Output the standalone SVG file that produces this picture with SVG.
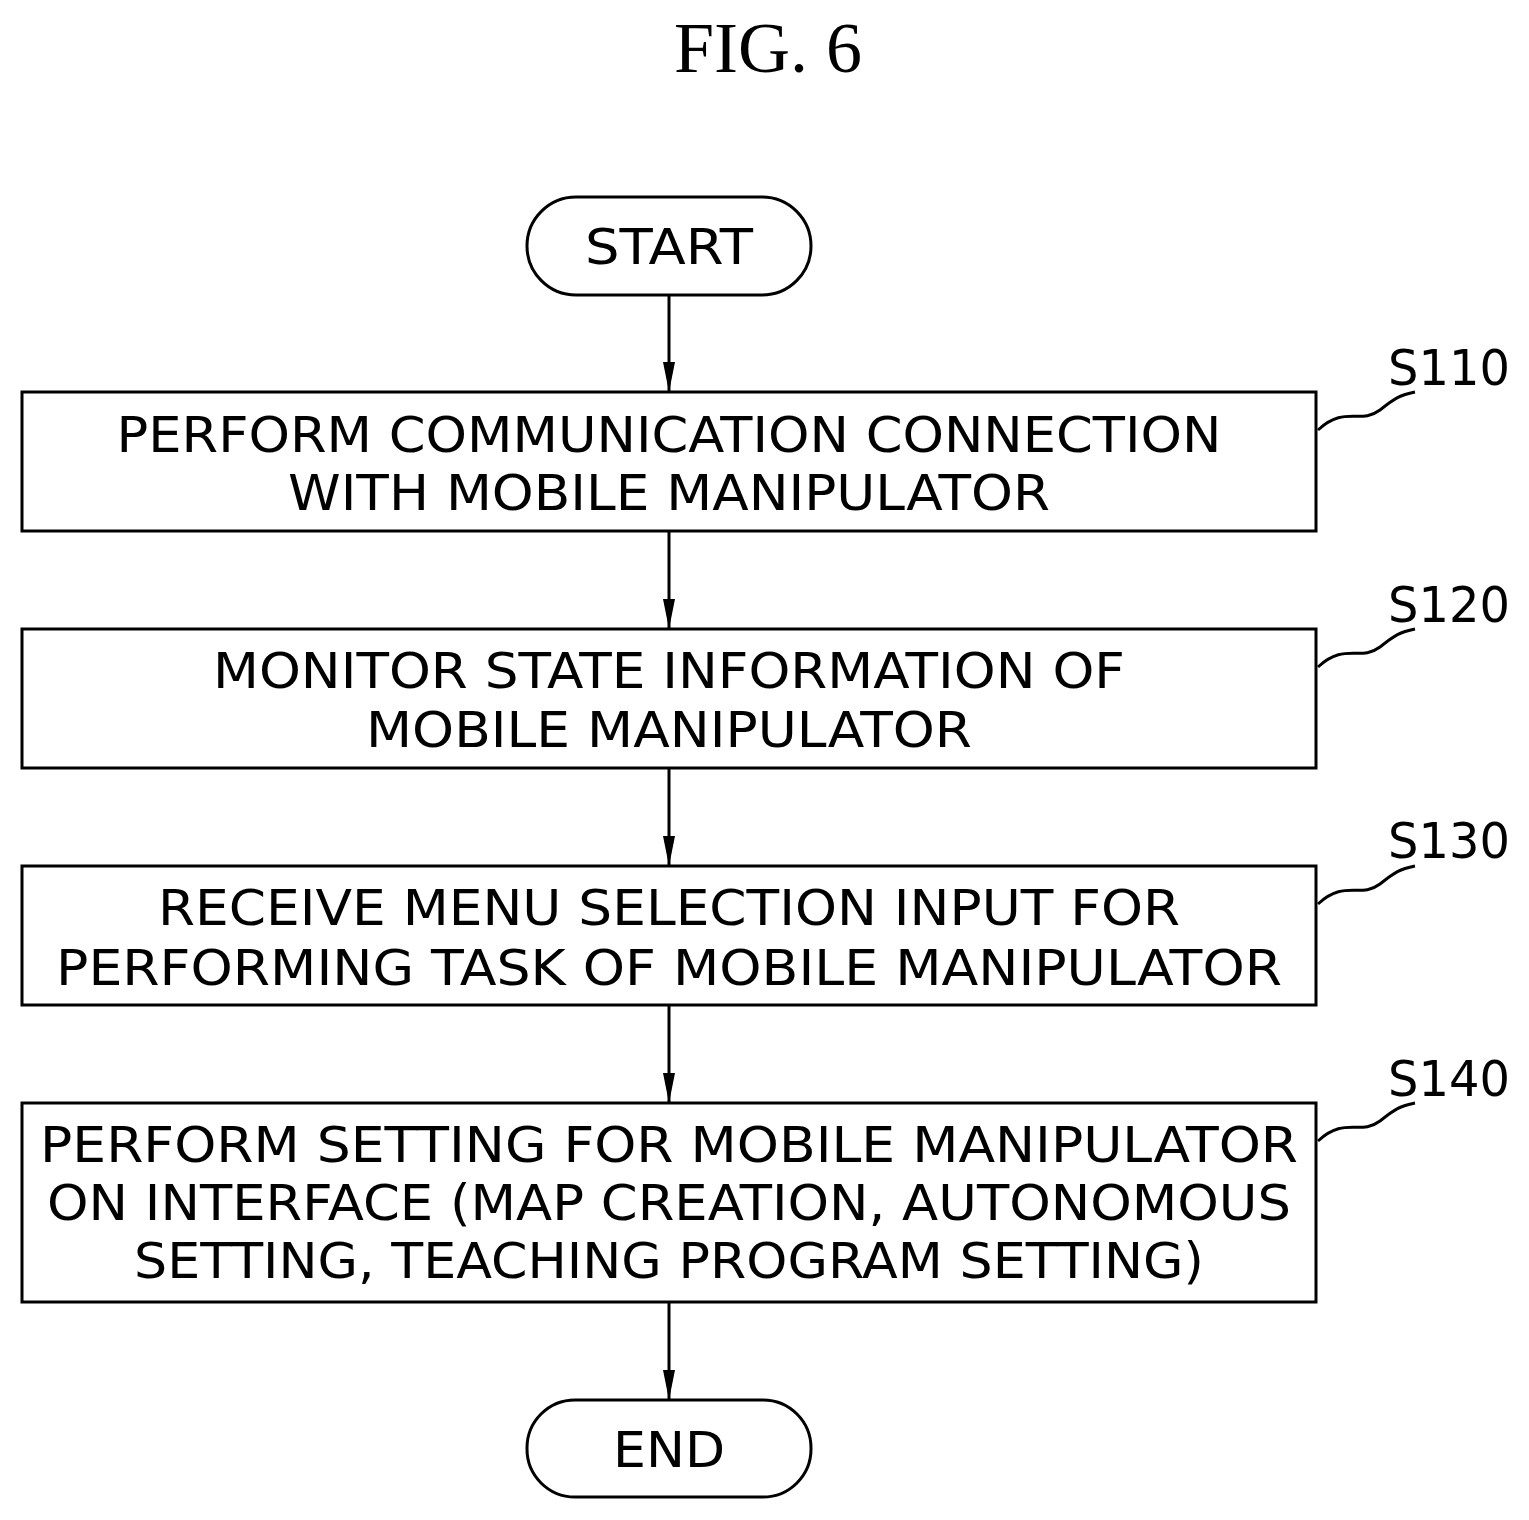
<svg xmlns="http://www.w3.org/2000/svg" width="1529" height="1520" viewBox="0 0 1529 1520">
<style>
.b{fill:#fff;stroke:#000;stroke-width:3}
.t{font-family:"DejaVu Sans","Liberation Sans",sans-serif;font-size:50px;text-anchor:middle;fill:#000}
.l{font-family:"DejaVu Sans","Liberation Sans",sans-serif;font-size:50px;fill:#000}
.c{stroke:#000;stroke-width:3;fill:none}
</style>
<defs><marker id="a" markerWidth="30" markerHeight="12" refX="29" refY="6" orient="auto" markerUnits="userSpaceOnUse" viewBox="0 0 30 12"><path d="M0,0 L30,6 L0,12 Z" fill="#000"/></marker></defs>
<rect width="1529" height="1520" fill="#fff"/>
<text x="768" y="72" font-family="Liberation Serif,serif" font-size="72" text-anchor="middle">FIG. 6</text>
<g id="connectors">
<line class="c" x1="669" y1="295" x2="669" y2="391" marker-end="url(#a)"/>
<line class="c" x1="669" y1="531" x2="669" y2="628" marker-end="url(#a)"/>
<line class="c" x1="669" y1="768" x2="669" y2="865" marker-end="url(#a)"/>
<line class="c" x1="669" y1="1005" x2="669" y2="1102" marker-end="url(#a)"/>
<line class="c" x1="669" y1="1302" x2="669" y2="1399" marker-end="url(#a)"/>
</g>
<g id="start"><rect class="b" x="527" y="197" width="284" height="98" rx="49"/><text class="t" x="669" y="264" textLength="168" lengthAdjust="spacingAndGlyphs">START</text></g>
<g id="s110"><rect class="b" x="22" y="392" width="1294" height="139"/>
<text class="t" x="669" y="452" textLength="1105" lengthAdjust="spacingAndGlyphs">PERFORM COMMUNICATION CONNECTION</text>
<text class="t" x="669" y="510" textLength="762" lengthAdjust="spacingAndGlyphs">WITH MOBILE MANIPULATOR</text>
<path class="c" stroke-width="2" d="M1318,430 C1345,405 1360,425 1380,410 C1395,398 1400,395 1415,392"/>
<text class="l" x="1388" y="385" textLength="122" lengthAdjust="spacingAndGlyphs">S110</text></g>
<g id="s120"><rect class="b" x="22" y="629" width="1294" height="139"/>
<text class="t" x="669" y="688" textLength="912" lengthAdjust="spacingAndGlyphs">MONITOR STATE INFORMATION OF</text>
<text class="t" x="669" y="747" textLength="606" lengthAdjust="spacingAndGlyphs">MOBILE MANIPULATOR</text>
<path class="c" stroke-width="2" d="M1318,667 C1345,642 1360,662 1380,647 C1395,635 1400,632 1415,629"/>
<text class="l" x="1388" y="622" textLength="122" lengthAdjust="spacingAndGlyphs">S120</text></g>
<g id="s130"><rect class="b" x="22" y="866" width="1294" height="139"/>
<text class="t" x="669" y="925" textLength="1022" lengthAdjust="spacingAndGlyphs">RECEIVE MENU SELECTION INPUT FOR</text>
<text class="t" x="669" y="985" textLength="1226" lengthAdjust="spacingAndGlyphs">PERFORMING TASK OF MOBILE MANIPULATOR</text>
<path class="c" stroke-width="2" d="M1318,904 C1345,879 1360,899 1380,884 C1395,872 1400,869 1415,866"/>
<text class="l" x="1388" y="858" textLength="122" lengthAdjust="spacingAndGlyphs">S130</text></g>
<g id="s140"><rect class="b" x="22" y="1103" width="1294" height="199"/>
<text class="t" x="669" y="1162" textLength="1258" lengthAdjust="spacingAndGlyphs">PERFORM SETTING FOR MOBILE MANIPULATOR</text>
<text class="t" x="669" y="1220" textLength="1244" lengthAdjust="spacingAndGlyphs">ON INTERFACE (MAP CREATION, AUTONOMOUS</text>
<text class="t" x="669" y="1278" textLength="1070" lengthAdjust="spacingAndGlyphs">SETTING, TEACHING PROGRAM SETTING)</text>
<path class="c" stroke-width="2" d="M1318,1141 C1345,1116 1360,1136 1380,1121 C1395,1109 1400,1106 1415,1103"/>
<text class="l" x="1388" y="1096" textLength="122" lengthAdjust="spacingAndGlyphs">S140</text></g>
<g id="end"><rect class="b" x="527" y="1400" width="284" height="97" rx="48"/><text class="t" x="669" y="1467" textLength="112" lengthAdjust="spacingAndGlyphs">END</text></g>
</svg>
